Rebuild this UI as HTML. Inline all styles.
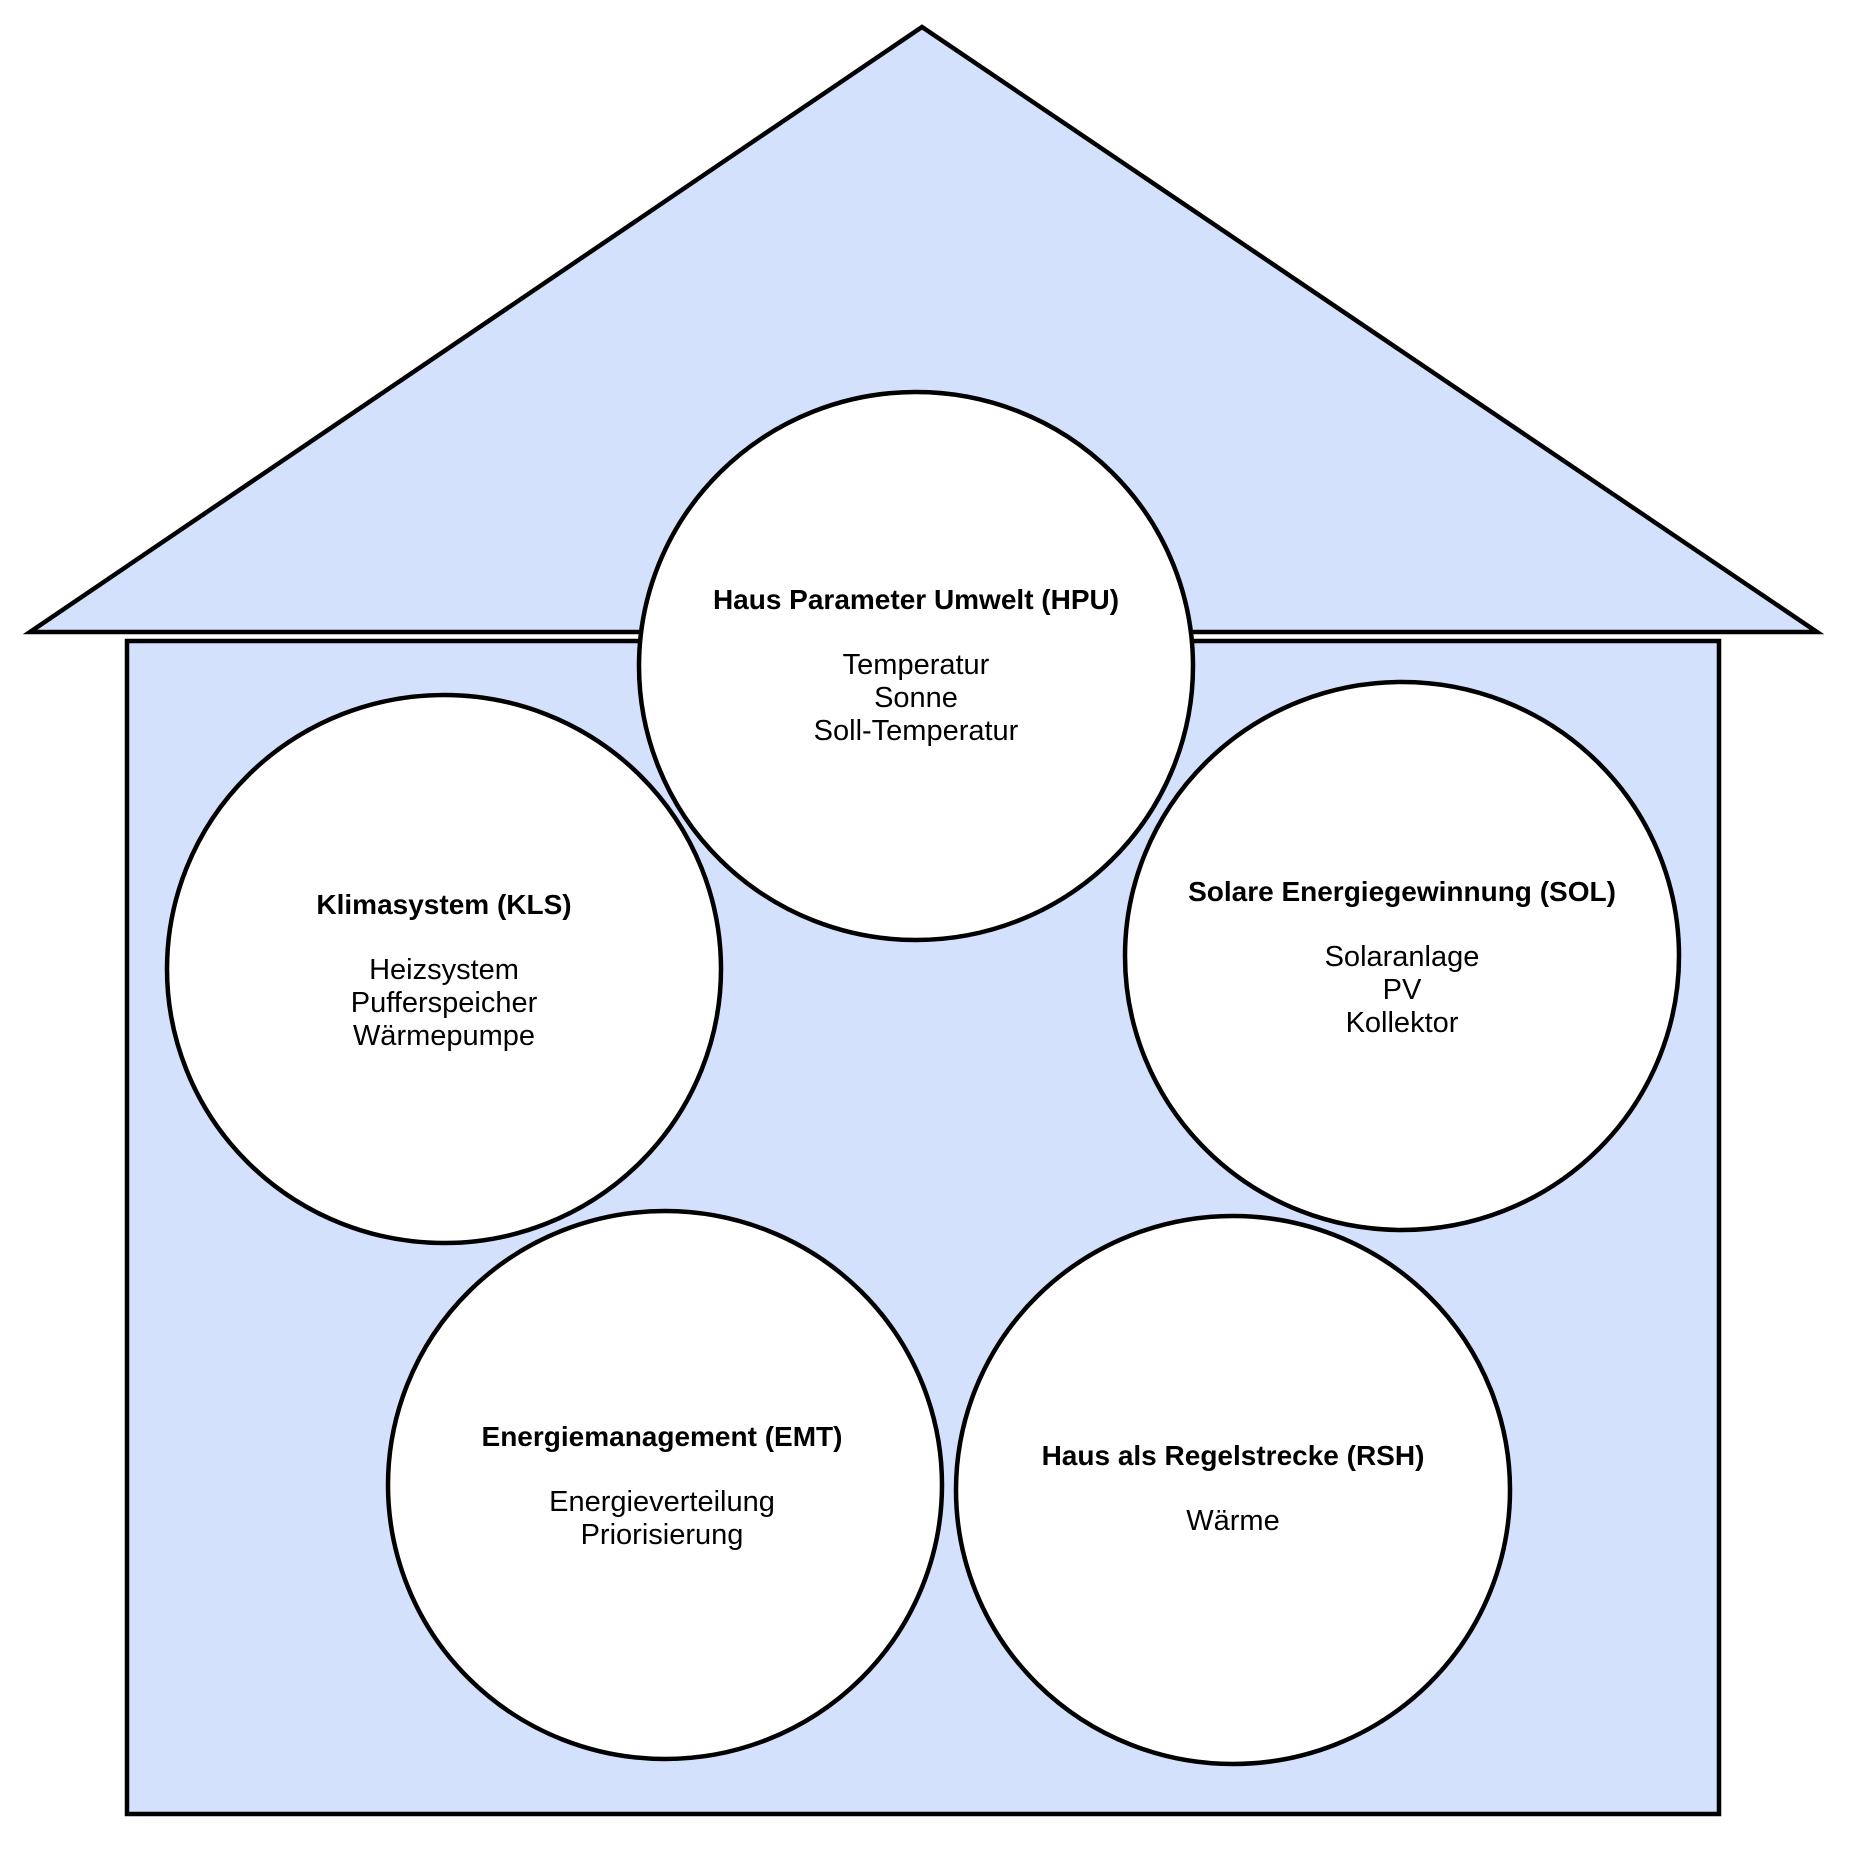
<!DOCTYPE html>
<html><head><meta charset="utf-8"><style>
html,body{margin:0;padding:0;background:#fff;}
svg text{font-family:"Liberation Sans",Arial,sans-serif;font-size:29px;fill:#000;}
.b{font-weight:bold;font-size:28px;}
</style></head><body>
<svg width="1854" height="1860" viewBox="0 0 1854 1860" xmlns="http://www.w3.org/2000/svg">
<polygon points="922,27 30,632 1817,632" fill="#d4e1fd" stroke="#000" stroke-width="4.5"/>
<rect x="127" y="641" width="1592" height="1173" fill="#d4e1fd" stroke="#000" stroke-width="4.5"/>
<g fill="#fff" stroke="#000" stroke-width="4.5">
<ellipse cx="916" cy="666" rx="277" ry="274"/>
<ellipse cx="444" cy="969" rx="277" ry="274"/>
<ellipse cx="1402" cy="956" rx="277" ry="274"/>
<ellipse cx="665" cy="1485" rx="277" ry="274"/>
<ellipse cx="1233" cy="1490" rx="277" ry="274"/>
</g>
<g text-anchor="middle">
<text x="916" y="609" class="b">Haus Parameter Umwelt (HPU)</text>
<text x="916" y="674">Temperatur</text>
<text x="916" y="707">Sonne</text>
<text x="916" y="740">Soll-Temperatur</text>

<text x="444" y="914" class="b">Klimasystem (KLS)</text>
<text x="444" y="979">Heizsystem</text>
<text x="444" y="1012">Pufferspeicher</text>
<text x="444" y="1045">Wärmepumpe</text>

<text x="1402" y="901" class="b">Solare Energiegewinnung (SOL)</text>
<text x="1402" y="966">Solaranlage</text>
<text x="1402" y="999">PV</text>
<text x="1402" y="1032">Kollektor</text>

<text x="662" y="1446" class="b">Energiemanagement (EMT)</text>
<text x="662" y="1511">Energieverteilung</text>
<text x="662" y="1544">Priorisierung</text>

<text x="1233" y="1465" class="b">Haus als Regelstrecke (RSH)</text>
<text x="1233" y="1530">Wärme</text>
</g>
</svg>
</body></html>
